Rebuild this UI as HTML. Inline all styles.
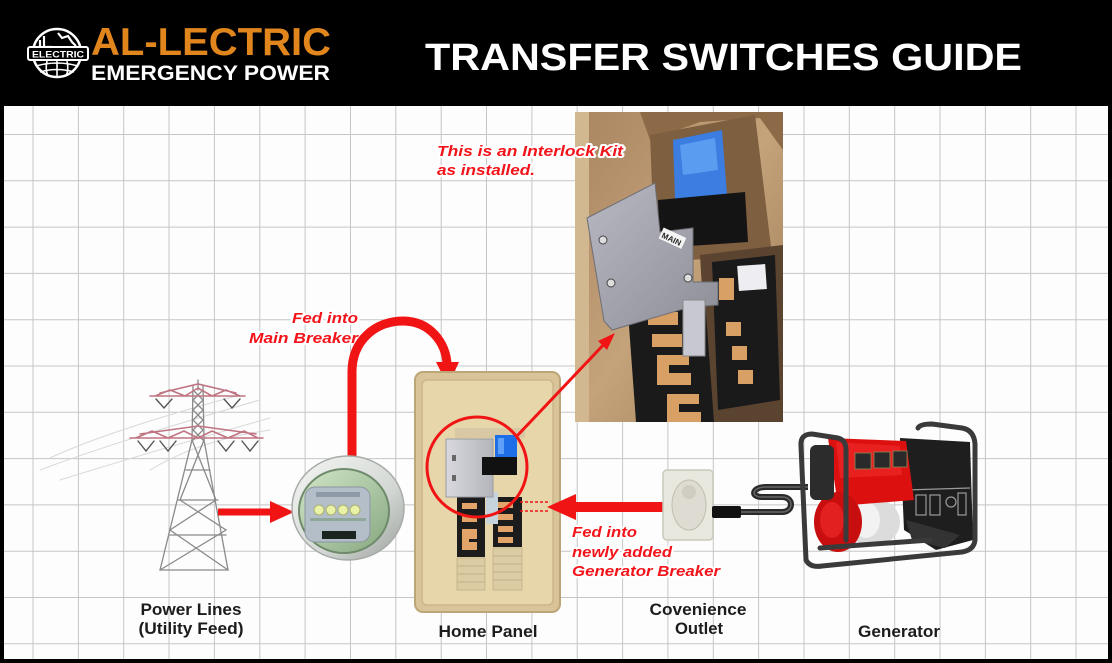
<!DOCTYPE html>
<html><head><meta charset="utf-8"><style>
html,body{margin:0;padding:0;background:#000;}
svg{display:block;}
text{font-family:"Liberation Sans",Arial,sans-serif;}
</style></head><body>
<svg width="1112" height="663" viewBox="0 0 1112 663" xmlns="http://www.w3.org/2000/svg">
<defs>
<linearGradient id="silver" x1="0" y1="0" x2="1" y2="1"><stop offset="0" stop-color="#f4f6f4"/><stop offset="0.6" stop-color="#d4d8d4"/><stop offset="1" stop-color="#9aa09c"/></linearGradient>
<linearGradient id="green" x1="0" y1="0" x2="1" y2="1"><stop offset="0" stop-color="#d2e6c8"/><stop offset="1" stop-color="#86a880"/></linearGradient>
<linearGradient id="plate" x1="0" y1="0" x2="1" y2="1"><stop offset="0" stop-color="#b8b8c2"/><stop offset="1" stop-color="#8e8e98"/></linearGradient>
<linearGradient id="photobg" x1="0" y1="0" x2="1" y2="1"><stop offset="0" stop-color="#a98560"/><stop offset="0.5" stop-color="#c4a27a"/><stop offset="1" stop-color="#9c7a54"/></linearGradient>
<linearGradient id="gbox" x1="0" y1="0" x2="1" y2="0"><stop offset="0" stop-color="#d8d8de"/><stop offset="1" stop-color="#b4b4bc"/></linearGradient>
<clipPath id="pclip"><rect x="575" y="112" width="208" height="310"/></clipPath>
</defs>

<!-- background -->
<rect x="0" y="0" width="1112" height="663" fill="#000"/>
<rect x="4" y="106" width="1104" height="553" fill="#fdfdfd"/>

<!-- grid -->
<g stroke="#c6c6c6" stroke-width="1">
<line x1="33" y1="106" x2="33" y2="659"/><line x1="78.4" y1="106" x2="78.4" y2="659"/><line x1="123.7" y1="106" x2="123.7" y2="659"/><line x1="169" y1="106" x2="169" y2="659"/><line x1="214.4" y1="106" x2="214.4" y2="659"/><line x1="259.8" y1="106" x2="259.8" y2="659"/><line x1="305.1" y1="106" x2="305.1" y2="659"/><line x1="350.5" y1="106" x2="350.5" y2="659"/><line x1="395.8" y1="106" x2="395.8" y2="659"/><line x1="441.2" y1="106" x2="441.2" y2="659"/><line x1="486.5" y1="106" x2="486.5" y2="659"/><line x1="531.9" y1="106" x2="531.9" y2="659"/><line x1="577.2" y1="106" x2="577.2" y2="659"/><line x1="622.6" y1="106" x2="622.6" y2="659"/><line x1="667.9" y1="106" x2="667.9" y2="659"/><line x1="713.3" y1="106" x2="713.3" y2="659"/><line x1="758.6" y1="106" x2="758.6" y2="659"/><line x1="804" y1="106" x2="804" y2="659"/><line x1="849.3" y1="106" x2="849.3" y2="659"/><line x1="894.7" y1="106" x2="894.7" y2="659"/><line x1="940" y1="106" x2="940" y2="659"/><line x1="985.4" y1="106" x2="985.4" y2="659"/><line x1="1030.7" y1="106" x2="1030.7" y2="659"/><line x1="1076" y1="106" x2="1076" y2="659"/>
<line x1="4" y1="134.5" x2="1108" y2="134.5"/><line x1="4" y1="180.8" x2="1108" y2="180.8"/><line x1="4" y1="227.1" x2="1108" y2="227.1"/><line x1="4" y1="273.4" x2="1108" y2="273.4"/><line x1="4" y1="319.7" x2="1108" y2="319.7"/><line x1="4" y1="366" x2="1108" y2="366"/><line x1="4" y1="412.3" x2="1108" y2="412.3"/><line x1="4" y1="458.6" x2="1108" y2="458.6"/><line x1="4" y1="504.9" x2="1108" y2="504.9"/><line x1="4" y1="551.2" x2="1108" y2="551.2"/><line x1="4" y1="597.5" x2="1108" y2="597.5"/><line x1="4" y1="643.8" x2="1108" y2="643.8"/>
</g>

<!-- header -->
<g>
<circle cx="57" cy="53" r="24" fill="none" stroke="#fff" stroke-width="2.5"/>
<path d="M40,40 L40,47 M44,36 L44,47 L52,47 M58,33 L62,38 L68,36 L72,42 L76,46" fill="none" stroke="#fff" stroke-width="2.2"/>
<path d="M36,66 Q57,60 78,66 M40,72 Q57,67 74,72 M57,60 L57,77 M47,61 Q45,70 48,76 M67,61 Q69,70 66,76" fill="none" stroke="#fff" stroke-width="1.6"/>
<rect x="28" y="47" width="60" height="13" rx="2" fill="#000" stroke="#fff" stroke-width="2"/>
<text x="58" y="57.5" font-size="9.5" font-weight="bold" fill="#fff" text-anchor="middle" textLength="52" lengthAdjust="spacingAndGlyphs">ELECTRIC</text>
<text x="91" y="55" font-size="39" font-weight="bold" fill="#e0861c" textLength="240" lengthAdjust="spacingAndGlyphs">AL-LECTRIC</text>
<text x="91" y="80" font-size="21.5" font-weight="bold" fill="#fff" textLength="239" lengthAdjust="spacingAndGlyphs">EMERGENCY POWER</text>
<text x="425" y="70" font-size="38" font-weight="bold" fill="#fff" textLength="597" lengthAdjust="spacingAndGlyphs">TRANSFER SWITCHES GUIDE</text>
</g>

<!-- photo of interlock -->
<g clip-path="url(#pclip)">
<rect x="575" y="112" width="208" height="310" fill="url(#photobg)"/>
<rect x="575" y="112" width="14" height="310" fill="#d2b890"/>
<polygon points="640,112 783,112 783,150 760,118 700,122 650,140" fill="#8c6a48"/>
<polygon points="650,135 755,115 772,255 655,262" fill="#7e5f40"/>
<polygon points="673,140 722,130 727,195 675,200" fill="#3b7de0"/>
<polygon points="680,145 715,138 718,170 683,175" fill="#5a9cf0"/>
<polygon points="658,200 745,192 748,242 660,248" fill="#141414"/>
<polygon points="700,255 783,245 783,422 710,422" fill="#5a4430"/>
<polygon points="712,262 775,255 780,400 718,410" fill="#1a1a1a"/>
<rect x="738" y="265" width="28" height="25" fill="#eeeef2" transform="rotate(-4 752 277)"/>
<rect x="719" y="278" width="15" height="22" fill="#d9a066"/>
<rect x="726" y="322" width="15" height="14" fill="#d9a066"/>
<rect x="732" y="346" width="15" height="14" fill="#d9a066"/>
<rect x="738" y="370" width="15" height="14" fill="#d9a066"/>
<polygon points="628,312 705,300 714,422 636,422" fill="#1a1a1a"/>
<rect x="648" y="312" width="30" height="13" fill="#d9a066"/>
<rect x="652" y="334" width="30" height="13" fill="#d9a066"/>
<path d="M657,355 h32 v10 h-20 v8 h22 v12 h-34 z" fill="#d9a066"/>
<path d="M667,394 h32 v10 h-20 v8 h22 v10 h-34 z" fill="#d9a066"/>
<polygon points="587,218 655,183 660,232 693,228 693,282 718,282 718,305 690,307 612,330 604,321" fill="url(#plate)" stroke="#6e6e76" stroke-width="1"/>
<rect x="660" y="232" width="25" height="12" fill="#f4f4f4" transform="rotate(25 672 238)"/>
<text x="672" y="242" font-size="8" font-weight="bold" fill="#222" text-anchor="middle" transform="rotate(25 672 238)" font-family="Liberation Serif,serif">MAIN</text>
<rect x="683" y="300" width="22" height="56" fill="#c8c8d2" stroke="#888" stroke-width="1"/>
<circle cx="603" cy="240" r="4" fill="#ddd" stroke="#444"/>
<circle cx="611" cy="283" r="4" fill="#ddd" stroke="#444"/>
<circle cx="688" cy="278" r="4" fill="#ddd" stroke="#444"/>
</g>

<!-- interlock annotation -->
<g font-size="15" font-weight="bold" font-style="italic" fill="#f2141a" stroke="#fff" stroke-width="4" paint-order="stroke" stroke-linejoin="round">
<text x="437" y="156" textLength="186" lengthAdjust="spacingAndGlyphs">This is an Interlock Kit</text>
<text x="437" y="175" textLength="98" lengthAdjust="spacingAndGlyphs">as installed.</text>
<text x="358" y="323" text-anchor="end" textLength="66" lengthAdjust="spacingAndGlyphs">Fed into</text>
<text x="358" y="343" text-anchor="end" textLength="109" lengthAdjust="spacingAndGlyphs">Main Breaker</text>
<text x="572" y="537" textLength="65" lengthAdjust="spacingAndGlyphs">Fed into</text>
<text x="572" y="557" textLength="100" lengthAdjust="spacingAndGlyphs">newly added</text>
<text x="572" y="576" textLength="148" lengthAdjust="spacingAndGlyphs">Generator Breaker</text>
</g>

<!-- tower -->
<g fill="none" stroke-linecap="round">
<g stroke="#d8d8d8" stroke-width="1">
<path d="M40,470 Q120,440 260,400 M60,480 Q140,455 270,418 M50,458 Q110,430 240,395 M150,470 Q200,440 270,430"/>
</g>
<g stroke="#8a8a8a" stroke-width="1.3">
<path d="M193,386 L192,440 L160,570 M203,386 L204,440 L228,570"/>
<path d="M193,390 L203,400 L193,410 L203,420 L193,430 L203,440 M203,390 L193,400 L203,410 L193,420 L203,430 L193,440"/>
<path d="M192,440 L216,500 L170,530 L228,570 M204,440 L180,500 L226,530 L160,570"/>
<path d="M186,470 L210,470 M178,500 L218,500 M170,535 L226,535 M160,570 L228,570"/>
<path d="M198,380 L198,390"/>
</g>
<g stroke="#c07482" stroke-width="1.6">
<path d="M150,396 L245,396 M160,393 L198,384 L236,393 M155,396 L170,390 L185,396 L198,388 L212,396 L226,390 L240,396"/>
<path d="M130,438 L263,438 M140,434 L198,426 L256,434 M136,438 L152,431 L168,438 L184,431 L198,438 L212,431 L228,438 L244,431 L258,438"/>
</g>
<g stroke="#555" stroke-width="1.4">
<path d="M156,399 L164,408 L172,399 M224,399 L232,408 L240,399"/>
<path d="M138,441 L146,451 L154,441 M160,441 L168,451 L176,441 M218,441 L226,451 L234,441 M242,441 L250,451 L258,441"/>
</g>
</g>

<!-- tower to meter arrow -->
<line x1="218" y1="512" x2="274" y2="512" stroke="#f01414" stroke-width="7"/>
<polygon points="270,501 294,512 270,523" fill="#f01414"/>

<!-- curved arrow to main breaker -->
<path d="M352,458 L352,372 C352,340 376,321 403,321 C430,321 446,343 447,364" fill="none" stroke="#f01414" stroke-width="9"/>
<polygon points="436,362 459,362 448,386" fill="#f01414"/>

<!-- meter -->
<ellipse cx="348" cy="508" rx="56" ry="52" fill="url(#silver)" stroke="#a8aca8" stroke-width="1.5"/>
<ellipse cx="344" cy="511" rx="45" ry="42" fill="url(#green)" stroke="#6f8a6a" stroke-width="2"/>
<rect x="305" y="487" width="65" height="55" rx="10" fill="#b4bec8" stroke="#8c96a2" stroke-width="1"/>
<rect x="316" y="492" width="44" height="5" fill="#8e9aa8"/>
<g fill="#eaf2a8" stroke="#a8b070" stroke-width="1"><circle cx="319" cy="510" r="5"/><circle cx="331" cy="510" r="5"/><circle cx="343" cy="510" r="5"/><circle cx="355" cy="510" r="5"/></g>
<rect x="310" y="518" width="56" height="3" fill="#8fa89a"/>
<rect x="322" y="531" width="34" height="8" fill="#1c2420"/>

<!-- home panel -->
<rect x="415" y="372" width="145" height="240" rx="8" fill="#d8c498" stroke="#bca678" stroke-width="2"/>
<rect x="422" y="380" width="131" height="225" rx="5" fill="#e8d6ab" stroke="#cbb68a" stroke-width="1.5"/>
<rect x="455" y="428" width="70" height="10" fill="#d8c9a4"/>
<rect x="457" y="497" width="28" height="60" fill="#1c1c1c"/>
<rect x="493" y="497" width="29" height="50" fill="#1c1c1c"/>
<g fill="#e2a468"><rect x="462" y="503" width="15" height="6"/><rect x="462" y="516" width="15" height="6"/><path d="M462,529 h15 v10 h-8 v3 h8 v8 h-15 z"/><rect x="498" y="502" width="15" height="6"/><rect x="498" y="514" width="15" height="6"/><rect x="498" y="526" width="15" height="6"/><rect x="498" y="537" width="15" height="6"/></g>
<g fill="#dccca4" stroke="#c7b58c" stroke-width="1"><rect x="457" y="558" width="28" height="32"/><rect x="493" y="548" width="29" height="42"/></g>
<g stroke="#c2b088" stroke-width="1"><path d="M457,566 h28 M457,574 h28 M457,582 h28 M493,556 h29 M493,564 h29 M493,572 h29 M493,580 h29"/></g>
<rect x="486" y="492" width="12" height="32" fill="#c6d2dc"/>
<rect x="446" y="439" width="47" height="58" fill="url(#gbox)" stroke="#9a9aa4" stroke-width="1"/>
<rect x="495" y="435" width="22" height="22" fill="#1e6ee8"/>
<rect x="498" y="438" width="6" height="16" fill="#5ea0f8"/>
<rect x="482" y="457" width="35" height="18" fill="#111"/>
<rect x="452" y="455" width="4" height="6" fill="#666"/><rect x="452" y="475" width="4" height="6" fill="#666"/>
<circle cx="477" cy="467" r="50" fill="none" stroke="#f01414" stroke-width="3"/>
<line x1="516" y1="437" x2="608" y2="340" stroke="#f01414" stroke-width="3"/>
<polygon points="615,333 598,341 607,350" fill="#f01414"/>

<!-- generator arrow -->
<g stroke="#f01414" stroke-width="1.5" stroke-dasharray="3,2"><line x1="520" y1="502" x2="548" y2="502"/><line x1="520" y1="511" x2="548" y2="511"/></g>
<line x1="572" y1="507" x2="665" y2="507" stroke="#f01414" stroke-width="10"/>
<polygon points="547,507 576,494 576,520" fill="#f01414"/>

<!-- outlet -->
<rect x="663" y="470" width="50" height="70" rx="4" fill="#e8e8de" stroke="#c8c8bc" stroke-width="1.5"/>
<ellipse cx="689" cy="505" rx="17" ry="25" fill="#dedcd2" stroke="#c0beb2" stroke-width="1"/>
<circle cx="689" cy="492" r="7" fill="#cfcdc2"/>
<!-- cord -->
<path d="M740,512 L782,512 C794,512 794,497 782,497 L762,497 C750,497 752,487 766,487 L808,487" fill="none" stroke="#2a2a2a" stroke-width="6"/>
<path d="M740,512 L782,512 C794,512 794,497 782,497 L762,497 C750,497 752,487 766,487 L808,487" fill="none" stroke="#666" stroke-width="1.5"/>
<rect x="712" y="506" width="29" height="12" rx="2" fill="#111"/>

<!-- generator -->
<g>
<polygon points="900,438 970,442 973,540 936,550 904,530" fill="#1e1e1e"/>
<g fill="none" stroke="#9a9a9a" stroke-width="1.2"><rect x="916" y="495" width="10" height="20"/><rect x="930" y="495" width="10" height="20"/><circle cx="951" cy="502" r="5"/><rect x="958" y="493" width="8" height="22"/><path d="M905,490 L970,488"/></g>
<path d="M906,520 L960,535 L945,548 L912,540 z" fill="#333"/>
<ellipse cx="873" cy="522" rx="27" ry="24" fill="#dcdcdc"/>
<ellipse cx="866" cy="520" rx="14" ry="18" fill="#f2f2f2"/>
<polygon points="828,438 906,441 914,500 838,506" fill="#dd1010"/>
<polygon points="836,442 900,446 902,475 840,478" fill="#e82020"/>
<ellipse cx="838" cy="522" rx="24" ry="30" fill="#c80e0e"/>
<ellipse cx="832" cy="520" rx="12" ry="18" fill="#e22020"/>
<rect x="810" y="445" width="24" height="55" rx="6" fill="#2c2c2c"/>
<g fill="#2a2a2a" stroke="#8a8a5a" stroke-width="0.8"><rect x="855" y="453" width="16" height="16"/><rect x="874" y="452" width="16" height="16"/><rect x="893" y="451" width="14" height="16"/></g>
<g fill="none" stroke="#3a3a3a" stroke-width="5" stroke-linecap="round" stroke-linejoin="round">
<path d="M806,560 L801,446 Q800,434 812,434 L838,438 Q846,440 846,450 L846,540"/>
<path d="M918,428 Q920,424 932,424 L962,428 Q974,430 975,444 L975,540 Q974,550 962,552"/>
<path d="M806,560 Q810,568 822,566 L962,552"/>
<path d="M820,548 L930,540"/>
</g>
</g>

<!-- labels -->
<g font-size="17" font-weight="bold" fill="#1c1c1c" text-anchor="middle">
<text x="191" y="615" textLength="101" lengthAdjust="spacingAndGlyphs">Power Lines</text>
<text x="191" y="634" textLength="105" lengthAdjust="spacingAndGlyphs">(Utility Feed)</text>
<text x="488" y="637" textLength="99" lengthAdjust="spacingAndGlyphs">Home Panel</text>
<text x="698" y="615" textLength="97" lengthAdjust="spacingAndGlyphs">Covenience</text>
<text x="699" y="634" textLength="48" lengthAdjust="spacingAndGlyphs">Outlet</text>
<text x="899" y="637" textLength="82" lengthAdjust="spacingAndGlyphs">Generator</text>
</g>
</svg>
</body></html>
